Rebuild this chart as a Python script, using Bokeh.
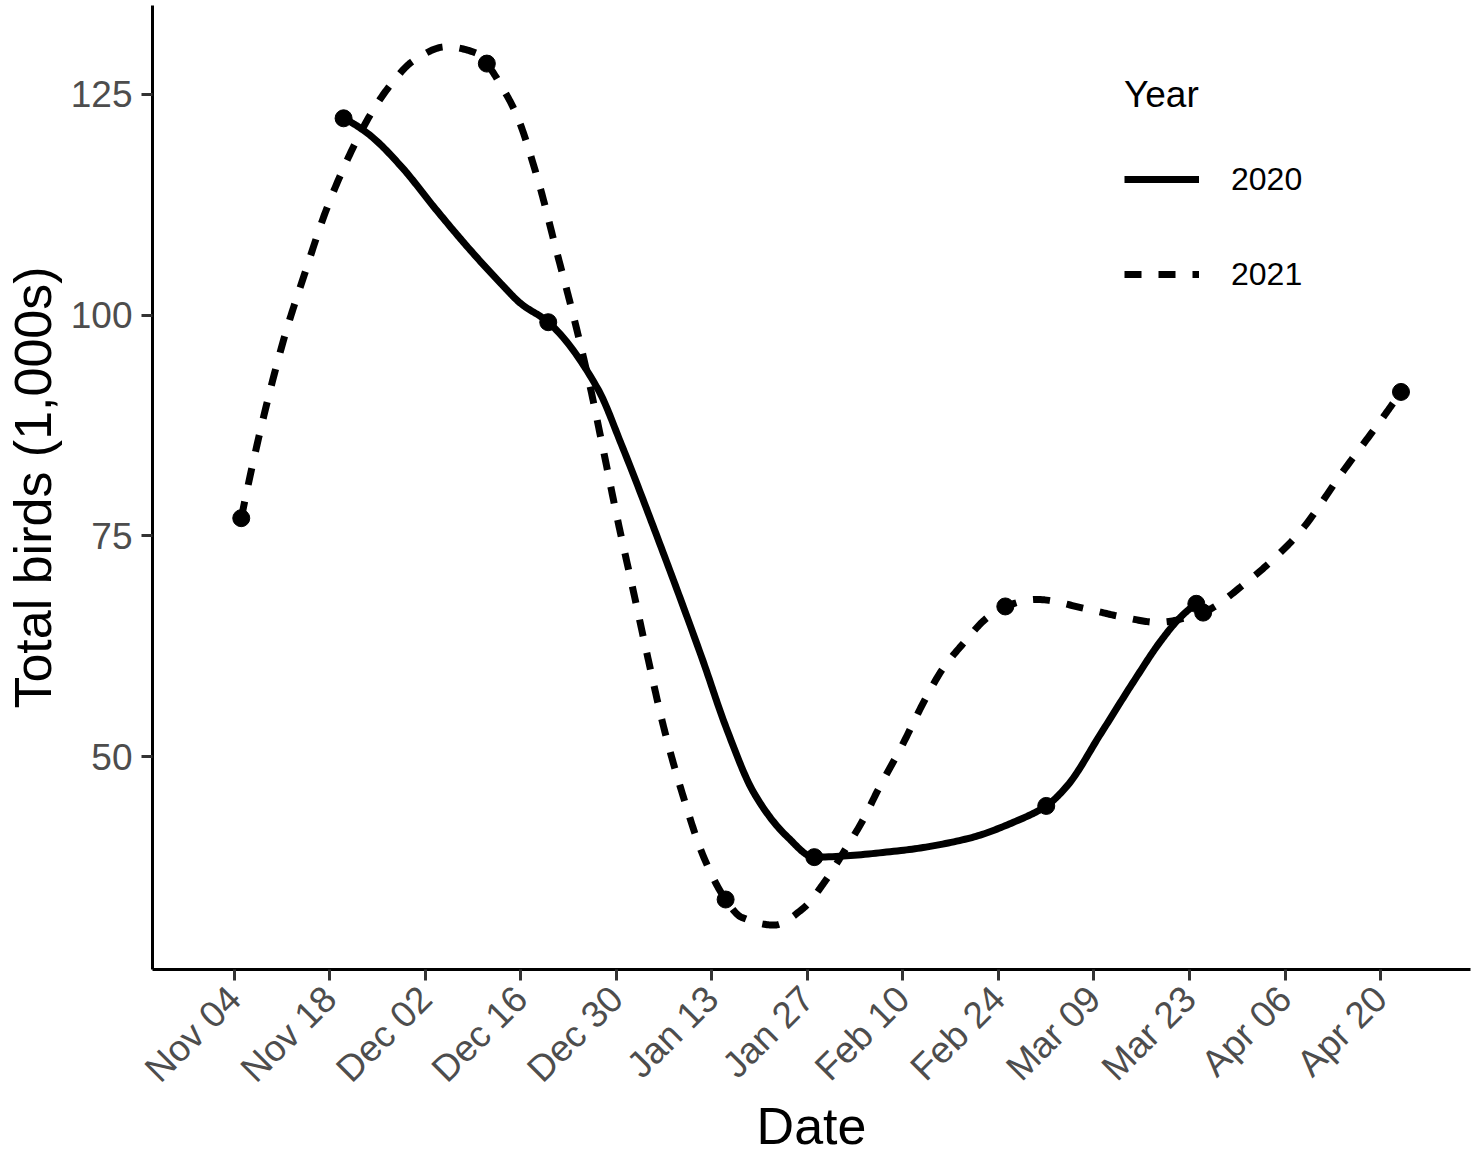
import math
import numpy as np
import pandas as pd
from bokeh.plotting import figure
from bokeh.models import Range1d, FixedTicker, Legend, LegendItem
from bokeh.embed import file_html
from bokeh.resources import INLINE

# ---------------- data ----------------
tick_labels = ["Nov 04", "Nov 18", "Dec 02", "Dec 16", "Dec 30", "Jan 13", "Jan 27",
               "Feb 10", "Feb 24", "Mar 09", "Mar 23", "Apr 06", "Apr 20"]
y_ticks = [50, 75, 100, 125]

# survey counts (thousands of birds)
dates_2020 = ["Nov 20", "Dec 20", "Jan 28", "Mar 02", "Mar 24"]
birds_2020 = [122.3, 99.2, 38.6, 44.4, 67.3]

dates_2021 = ["Nov 05", "Dec 11", "Jan 15", "Feb 25", "Mar 25", "Apr 23"]
birds_2021 = [77.0, 128.5, 33.8, 67.0, 66.3, 91.3]

# smoothed trend lines as drawn in the figure (days after Nov 04, thousands of birds)
trend_days_2020 = [16.0, 19.6, 24.5, 29.3, 34.2, 39.1, 42.0, 46.0, 53.3, 56.7,
                   62.55, 68.65, 72.07, 76.2, 81.1, 85.0, 97.7, 107.5, 114.8, 119.0,
                   122.1, 127.0, 131.9, 135.8, 138.7, 141.0]
trend_vals_2020 = [122.3, 120.55, 116.8, 112.2, 107.7, 103.55, 101.3, 99.2, 91.6, 85.4,
                   73.7, 60.9, 53.3, 45.8, 40.86, 38.6, 39.35, 40.7, 42.75, 44.4,
                   46.7, 52.6, 58.6, 63.1, 65.8, 67.3]

trend_days_2021 = [1.0, 7.1, 10.3, 13.5, 17.4, 20.3, 22.8, 26.2, 31.0, 35.7, 37.0,
                   39.1, 41.3, 44.5, 47.2, 49.6, 52.0, 54.0, 56.2, 58.4, 60.6, 62.9,
                   65.5, 68.9, 72.0, 74.3, 79.1, 83.3, 86.7, 89.6, 92.1, 94.3, 97.7,
                   101.4, 103.8, 107.0, 110.15, 113.0, 117.5, 125.0, 130.2, 135.3,
                   142.0, 148.3, 152.5, 156.1, 162.6, 168.3, 171.0]
trend_vals_2021 = [77.0, 96.9, 104.7, 112.0, 119.0, 123.2, 126.0, 128.8, 130.4, 129.6, 128.5,
                   126.0, 122.8, 115.3, 107.3, 100.2, 92.4, 85.0, 76.7, 69.0, 61.2, 53.4,
                   46.2, 38.4, 33.8, 31.8, 30.9, 32.75, 36.0, 39.55, 42.75, 46.15, 51.0,
                   56.7, 59.9, 62.95, 65.6, 67.0, 67.8, 66.7, 65.8, 65.2,
                   66.35, 69.7, 72.5, 75.35, 82.4, 88.35, 91.3]

# ---------------- helpers ----------------
BASE = pd.Timestamp("2019-11-04")


def season_day(md):
    t = pd.to_datetime(md + " 2019", format="%b %d %Y")
    if t.month < 7:
        t = pd.to_datetime(md + " 2020", format="%b %d %Y")
    return (t - BASE).days


def pchip_path(xs, ys, per=24):
    """Shape-preserving cubic through the given trend readings (for drawing only)."""
    x = np.asarray(xs, float)
    y = np.asarray(ys, float)
    h = np.diff(x)
    d = np.diff(y) / h
    n = len(x)
    m = np.zeros(n)
    for k in range(1, n - 1):
        if d[k - 1] * d[k] > 0:
            w1 = 2 * h[k] + h[k - 1]
            w2 = h[k] + 2 * h[k - 1]
            m[k] = (w1 + w2) / (w1 / d[k - 1] + w2 / d[k])

    def end(h0, h1, d0, d1):
        s = ((2 * h0 + h1) * d0 - h0 * d1) / (h0 + h1)
        if np.sign(s) != np.sign(d0):
            return 0.0
        if np.sign(d0) != np.sign(d1) and abs(s) > 3 * abs(d0):
            return 3 * d0
        return s

    m[0] = end(h[0], h[1], d[0], d[1])
    m[-1] = end(h[-1], h[-2], d[-1], d[-2])
    t = np.linspace(0, 1, per, endpoint=False)
    h00 = 2 * t**3 - 3 * t**2 + 1
    h10 = t**3 - 2 * t**2 + t
    h01 = -2 * t**3 + 3 * t**2
    h11 = t**3 - t**2
    px, py = [], []
    for k in range(n - 1):
        px.extend(x[k] + t * h[k])
        py.extend(h00 * y[k] + h10 * h[k] * m[k] + h01 * y[k + 1] + h11 * h[k] * m[k + 1])
    px.append(x[-1])
    py.append(y[-1])
    return px, py


tick_days = [season_day(s) for s in tick_labels]
x20 = [season_day(s) for s in dates_2020]
x21 = [season_day(s) for s in dates_2021]

FONT = "Liberation Sans"

p = figure(width=1476, height=1158, output_backend="svg", toolbar_location=None,
           x_range=Range1d(-12.01, 181.19), y_range=Range1d(25.87, 135.08),
           min_border_left=151, min_border_right=6, min_border_top=5, min_border_bottom=189)
p.outline_line_color = None
p.xgrid.visible = False
p.ygrid.visible = False
p.background_fill_color = "white"
p.border_fill_color = "white"

# trend lines
lx20, ly20 = pchip_path(trend_days_2020, trend_vals_2020)
lx21, ly21 = pchip_path(trend_days_2021, trend_vals_2021)
r20 = p.line(lx20, ly20, line_color="black", line_width=7, line_join="round")
r21 = p.line(lx21, ly21, line_color="black", line_width=7, line_dash="17 17", line_join="round")

# survey points
p.scatter(x20, birds_2020, size=17, color="black")
p.scatter(x21, birds_2021, size=17, color="black")

# axes
for ax in (p.xaxis[0], p.yaxis[0]):
    ax.axis_line_color = "black"
    ax.axis_line_width = 3
    ax.major_tick_line_color = "#333333"
    ax.major_tick_line_width = 3
    ax.major_tick_out = 11
    ax.major_tick_in = 0
    ax.minor_tick_line_color = None
    ax.major_label_text_font = FONT
    ax.major_label_text_font_size = "37px"
    ax.major_label_text_color = "#4D4D4D"
    ax.axis_label_text_font = FONT
    ax.axis_label_text_font_size = "52px"
    ax.axis_label_text_font_style = "normal"
    ax.axis_label_text_color = "black"

p.xaxis.ticker = FixedTicker(ticks=tick_days)
p.xaxis.major_label_overrides = {d: s for d, s in zip(tick_days, tick_labels)}
p.xaxis.major_label_orientation = math.pi / 4
p.xaxis.major_label_standoff = 12
p.xaxis.axis_label = "Date"
p.xaxis.axis_label_standoff = -10

p.yaxis.ticker = FixedTicker(ticks=y_ticks)
p.yaxis.major_label_standoff = 9
p.yaxis.axis_label = "Total birds (1,000s)"
p.yaxis.axis_label_standoff = 6

legend = Legend(
    items=[LegendItem(label="2020", renderers=[r20]), LegendItem(label="2021", renderers=[r21])],
    title="Year", location=(972, 675), orientation="vertical",
    title_text_font=FONT, title_text_font_size="37px", title_text_font_style="normal",
    title_text_color="black", title_standoff=43,
    label_text_font=FONT, label_text_font_size="32px", label_text_color="black",
    glyph_width=75, glyph_height=40, label_standoff=32, spacing=55,
    padding=0, margin=0, border_line_color=None, background_fill_alpha=0,
)
p.add_layout(legend)

open("out.html", "w").write(file_html(p, INLINE))
